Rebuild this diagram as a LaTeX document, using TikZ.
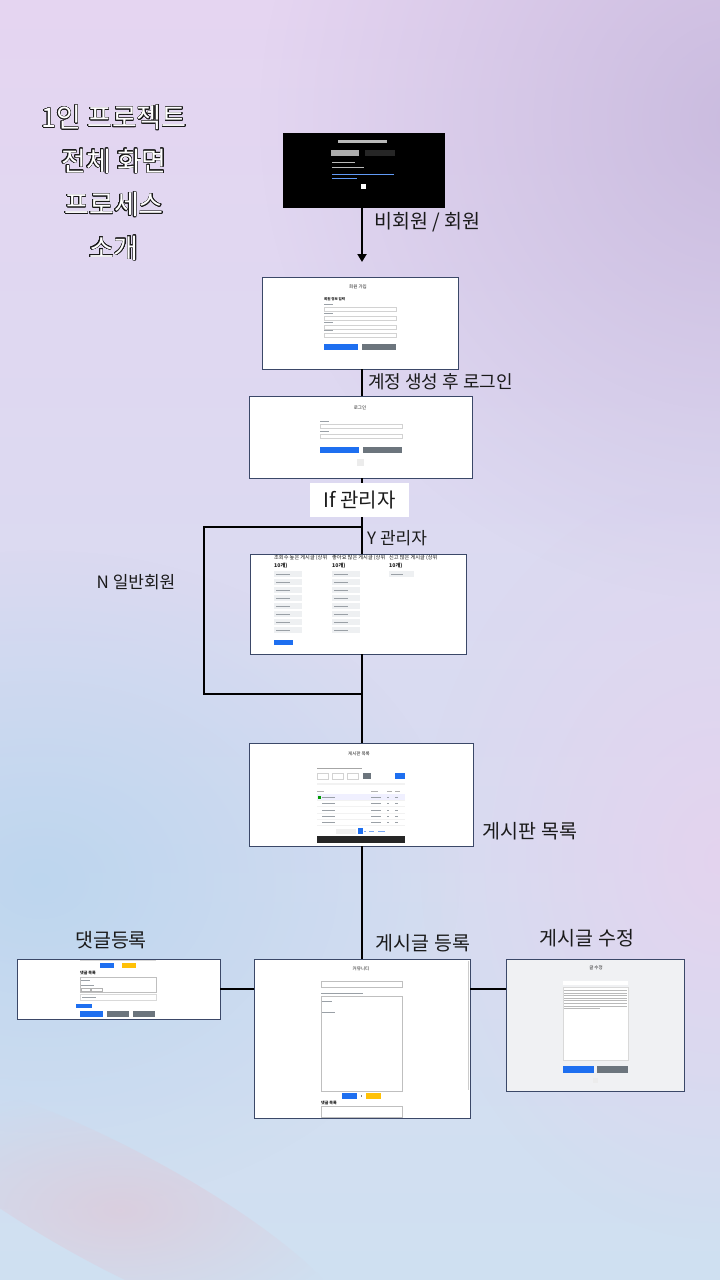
\documentclass[tikz,border=0pt]{standalone}
\usepackage{fontspec}
\setmainfont{Noto Sans CJK KR}
\usepackage{contour}
\usetikzlibrary{arrows.meta,positioning,fadings}
\tikzset{>/.tip={Triangle[length=8pt,width=9pt]}}
\tikzfading[name=softglow,inner color=transparent!15,outer color=transparent!100]
\contourlength{0.45pt}
\contournumber{24}
\definecolor{bgtop}{HTML}{E5D5F1}
\definecolor{bgmid}{HTML}{D9D8F0}
\definecolor{bgbot}{HTML}{CFE0F1}
\definecolor{bgblue}{HTML}{B9D5EE}
\definecolor{bgpink}{HTML}{E6D2EE}
\definecolor{bgrose}{HTML}{DCCCDC}
\definecolor{bgpurple}{HTML}{C6B7DC}
\definecolor{edgenavy}{HTML}{3B4868}
\definecolor{btnblue}{HTML}{1E6FF0}
\definecolor{btngray}{HTML}{6C757D}
\definecolor{btnyellow}{HTML}{FFC107}
\definecolor{fieldgray}{HTML}{EEF0F2}
\definecolor{inkgray}{HTML}{9AA0A6}
\definecolor{editbg}{HTML}{F0F1F3}
\definecolor{ink}{HTML}{1A1A1A}
\def\outl#1{\contour{ink}{#1}}
\tikzset{
  shot/.style={draw=edgenavy,line width=0.9pt,fill=white,inner sep=0pt},
  flow/.style={line width=2.8pt,draw=black},
  lbl/.style={font=\fontsize{19.5}{22}\selectfont,text=ink,inner sep=1pt},
  smalllbl/.style={font=\fontsize{17}{20}\selectfont,text=ink,inner sep=1pt},
  tiny/.style={font=\fontsize{4.5}{5}\selectfont,text=ink,inner sep=0pt},
  field/.style={draw=gray!35,line width=0.3pt,fill=white},
}

\begin{document}
\begin{tikzpicture}[x=1pt,y=-1pt]
  \useasboundingbox (0,0) rectangle (720,1280);
  % background
  \shade[top color=bgtop,middle color=bgmid,bottom color=bgbot] (0,0) rectangle (720,1280);
  \fill[bgpurple,path fading=softglow] (740,120) circle (480);
  \fill[bgblue,path fading=softglow] (40,880) ellipse (420 and 330);
  \fill[bgpink,path fading=softglow] (720,860) ellipse (300 and 380);
  \fill[bgrose,path fading=softglow,rotate around={-28:(120,1210)}] (120,1210) ellipse (260 and 60);

  % title
  \node[align=center,text=white,font=\fontsize{27}{43.5}\selectfont] (heading) at (114,183)
    {\outl{1인 프로젝트}\\\outl{전체 화면}\\\outl{프로세스}\\\outl{소개}};

  % screens
  \node[shot,fill=black,draw=black,minimum width=161,minimum height=74] (intro) at (363.5,170) {};
  \node[shot,minimum width=196,minimum height=92] (signup) at (360,323) {};
  \node[shot,minimum width=223,minimum height=82] (login) at (360.5,437) {};
  \node[shot,minimum width=216,minimum height=100] (rank) at (358,604) {};
  \node[shot,minimum width=224,minimum height=103] (board) at (361,794.5) {};
  \node[shot,minimum width=216,minimum height=159] (post) at (362,1038.5) {};
  \node[shot,minimum width=203,minimum height=60] (comment) at (118.5,989) {};
  \node[shot,fill=editbg,minimum width=178,minimum height=132] (edit) at (595,1025) {};

  % intro screen
  \fill[gray!55] (338,140) rectangle (387,142.5);
  \fill[gray!65] (331,150) rectangle (359,156);
  \fill[gray!30!black] (365,150) rectangle (395,156);
  \fill[gray!55] (332,161.5) rectangle (355,162.5);
  \fill[gray!55] (332,166.5) rectangle (364,167.5);
  \fill[btnblue!70] (332,173.5) rectangle (394,174.5);
  \fill[btnblue!70] (332,177.5) rectangle (357,178.5);
  \fill[white] (361,184) rectangle (366,189);

  % signup screen
  \node[tiny] at (358,287) {회원 가입};
  \node[tiny,anchor=west,font=\fontsize{3.5}{4}\bfseries] at (324,299) {회원 정보 입력};
  \foreach \y in {304,313,322,330}{
    \fill[inkgray] (324,\y-0.4) rectangle (333,\y+0.4);
    \draw[field] (324,\y+3) rectangle (396,\y+7);
  }
  \fill[btnblue] (324,344) rectangle (358,350);
  \fill[btngray] (362,344) rectangle (396,350);

  % login screen
  \node[tiny] at (360,408) {로그인};
  \foreach \y in {421,431}{
    \fill[inkgray] (320,\y-0.4) rectangle (329,\y+0.4);
    \draw[field] (320,\y+3) rectangle (402,\y+7);
  }
  \fill[btnblue] (320,447) rectangle (359,453);
  \fill[btngray] (363,447) rectangle (402,453);
  \fill[gray!15] (357,459) rectangle (364,466);

  % ranking screen
  \foreach \x/\t in {274/조회수 높은 게시글 (상위,332/좋아요 많은 게시글 (상위,389/신고 많은 게시글 (상위}{
    \node[tiny,anchor=north west,align=left,font=\fontsize{5.2}{7.5}\selectfont] at (\x,555) {\t\\\textbf{10개)}};
  }
  \foreach \y in {574,582,...,630}{
    \fill[fieldgray] (274,\y-3) rectangle (302,\y+3);
    \fill[fieldgray] (332,\y-3) rectangle (360,\y+3);
    \fill[inkgray] (276,\y-0.4) rectangle (290,\y+0.4);
    \fill[inkgray] (334,\y-0.4) rectangle (348,\y+0.4);
  }
  \fill[fieldgray] (389,571) rectangle (414,577);
  \fill[inkgray] (391,573.6) rectangle (403,574.4);
  \fill[btnblue] (274,640) rectangle (293,645);

  % board screen
  \node[tiny] at (359,754) {게시판 목록};
  \fill[gray!70] (317,767.5) rectangle (362,769);
  \foreach \x in {317,332,347}{\draw[field] (\x,773) rectangle (\x+11,779);}
  \fill[btngray] (363,773) rectangle (371,779);
  \fill[btnblue] (395,773) rectangle (405,779);
  \fill[gray!10] (317,783) rectangle (405,784.5);
  \fill[blue!6] (317,794) rectangle (405,800);
  \fill[green!60!black] (318,795.5) rectangle (320.5,798.5);
  \foreach \x/\w in {317/7,371/7,387/5,395/5}{\fill[gray!60] (\x,790.5) rectangle (\x+\w,791.5);}
  \foreach \y in {797,803,810,816,822}{
    \fill[inkgray] (322,\y-0.4) rectangle (335,\y+0.4);
    \fill[inkgray] (371,\y-0.4) rectangle (381,\y+0.4);
    \fill[inkgray] (387,\y-0.4) rectangle (389,\y+0.4);
    \fill[inkgray] (395,\y-0.4) rectangle (398,\y+0.4);
    \fill[gray!10] (317,\y+2.8) rectangle (405,\y+3.2);
  }
  \fill[gray!12] (336,829) rectangle (356,834);
  \fill[btnblue] (358,828) rectangle (362.5,834);
  \foreach \x/\w in {364/2,369/5,378/7}{\fill[btnblue!60] (\x,830.8) rectangle (\x+\w,831.6);}
  \fill[black!85] (317,836) rectangle (405,843);

  % post screen
  \node[tiny] at (361,969) {커뮤니티};
  \draw[field,draw=gray!50] (321,981) rectangle (402,987);
  \fill[inkgray] (321,992.5) rectangle (363,993.5);
  \draw[field,draw=gray!50] (321,996) rectangle (402,1091);
  \fill[inkgray] (322,1000.5) rectangle (332,1001.5);
  \fill[inkgray] (322,1011.5) rectangle (335,1012.5);
  \fill[btnblue] (342,1093) rectangle (357,1099);
  \fill[gray] (361,1095) rectangle (361.6,1097);
  \fill[btnyellow] (366,1093) rectangle (381,1099);
  \node[tiny,anchor=west,font=\fontsize{4}{5}\bfseries] at (321,1103) {댓글 목록};
  \draw[field,draw=gray!50] (321,1106) rectangle (402,1117.5);
  \fill[gray!40] (467.5,961) rectangle (469,1090);

  % comment screen
  \fill[gray!30] (80,960) rectangle (156,960.8);
  \fill[btnblue] (100,963) rectangle (114,968);
  \fill[btnyellow] (122,963) rectangle (136,968);
  \node[tiny,anchor=west,font=\fontsize{4}{5}\bfseries] at (80,973) {댓글 목록};
  \draw[field,draw=gray!50] (80,977) rectangle (156,992);
  \fill[inkgray] (81,979.5) rectangle (90,980.3);
  \fill[inkgray] (81,984.5) rectangle (94,985.3);
  \draw[field,draw=gray!60] (81,988) rectangle (90,991.5);
  \draw[field,draw=gray!60] (91,988) rectangle (102,991.5);
  \draw[field,draw=gray!30] (80,994) rectangle (156,1000);
  \fill[inkgray] (82,996.6) rectangle (96,997.4);
  \fill[btnblue] (76,1004) rectangle (92,1008);
  \fill[btnblue] (80,1011) rectangle (103,1017);
  \fill[btngray] (107,1011) rectangle (129,1017);
  \fill[btngray] (133,1011) rectangle (155,1017);

  % edit screen
  \node[tiny] at (596,968) {글 수정};
  \fill[white] (563,981) rectangle (628,985);
  \draw[field,draw=gray!30] (563,987) rectangle (628,1060);
  \foreach \y in {990,992.6,...,1006}{\fill[gray!55] (564,\y) rectangle (627,\y+0.8);}
  \fill[gray!55] (564,1008) rectangle (600,1008.8);
  \fill[btnblue] (563,1066) rectangle (594,1073);
  \fill[btngray] (597,1066) rectangle (628,1073);
  \fill[gray!15] (593,1078) rectangle (598,1083);

  % connectors
  \coordinate (axis) at (362,0);
  \coordinate (arrowend) at (362,262);
  \coordinate (split) at (362,527);
  \coordinate (nleft) at (204,694);
  \coordinate (merge) at (362,694);
  \draw[flow,->] (intro.south -| axis) -- (arrowend);
  \draw[flow] (signup.south -| axis) -- (login.north -| axis);
  \draw[flow] (login.south -| axis) -- (rank.north -| axis);
  \draw[flow] (split) -| (nleft) -- (merge);
  \draw[flow] (rank.south -| axis) -- (board.north -| axis);
  \draw[flow] (board.south -| axis) -- (post.north -| axis);
  \draw[flow] (comment.east) -- (comment.east -| post.west);
  \draw[flow] (post.east |- comment.east) -- (edit.west |- comment.east);

  % labels
  \node[fill=white,minimum width=99,minimum height=34,inner sep=0pt,font=\fontsize{20}{22}\selectfont,text=ink] (cond) at (359.5,500) {If 관리자};
  \node[lbl,anchor=west] (lmember) at (373,222) {비회원 / 회원};
  \node[lbl,anchor=west,font=\fontsize{18}{20}\selectfont] (lsignup) at (367,382) {계정 생성 후 로그인};
  \node[smalllbl,anchor=west] (ladmin) at (366,538) {Y 관리자};
  \node[smalllbl] (luser) at (136,582) {N 일반회원};
  \node[lbl] (lboard) at (530,831) {게시판 목록};
  \node[lbl] (lpost) at (423,943) {게시글 등록};
  \node[lbl] (lcomment) at (111,940) {댓글등록};
  \node[lbl] (ledit) at (587,938) {게시글 수정};
\end{tikzpicture}
\end{document}
